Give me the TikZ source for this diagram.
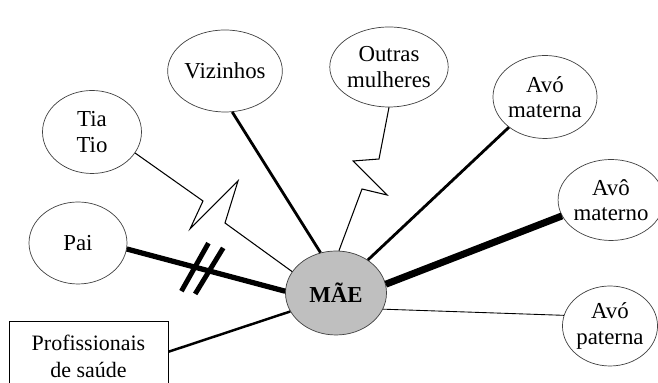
\documentclass[tikz,border=0pt]{standalone}
\usepackage{fontspec}
\setmainfont{Liberation Serif}
\usetikzlibrary{shapes.geometric}

\begin{document}
\begin{tikzpicture}[
        every node/.style={font=\fontsize{13}{14.5}\selectfont},
        person/.style={ellipse,draw=black!75,minimum width=1.96cm,minimum height=1.64cm,inner sep=0pt,align=center},
        cutbar/.style={line width=2.8pt}]
            \useasboundingbox (0,0) rectangle (13.16,7.66);

            \node[person,fill=black!25,minimum width=2.02cm,minimum height=1.68cm] (mae) at (6.72,1.80) {\textbf{MÃE}};
            \node[person] (pai) at (1.56,2.80) {Pai};
            \node[person,minimum width=1.98cm,minimum height=1.66cm] (tia) at (1.84,5.02) {Tia\\Tio};
            \node[person] (viz) at (4.50,6.24) {Vizinhos};
            \node[person,minimum width=2.1cm,minimum height=1.6cm] (outras) at (7.78,6.32) {Outras\\mulheres};
            \node[person,minimum width=1.94cm,minimum height=1.66cm] (avoma) at (10.90,5.72) {Avó\\materna};
            \node[person,minimum width=1.84cm,minimum height=1.62cm] (avomo) at (12.22,3.66) {Avô\\materno};
            \node[person,minimum width=1.8cm,minimum height=1.6cm] (avopa) at (12.20,1.14) {Avó\\paterna};
            \node[draw,minimum width=3.18cm,minimum height=1.4cm,align=center,font=\fontsize{12.5}{15.5}\selectfont] (prof) at (1.77,0.54) {Profissionais\\de saúde};

            \draw[line width=1.6pt] (viz.-80) to (mae.111);
            \draw[line width=1.6pt] (avoma.220) to (mae.46);
            \draw[line width=4pt] (avomo.198) to (mae.10);
            \draw[line width=0.5pt] (avopa.167) to (mae.-19);
            \draw[line width=1.4pt] (prof.3) to (mae.202);
            \draw[line width=3pt] (pai.-7) to coordinate[pos=0.43] (cut1) coordinate[pos=0.52] (cut2) (mae.178);
            \draw[cutbar] (cut1) ++(0.27,0.48) -- ++(-0.54,-0.96);
            \draw[cutbar] (cut2) ++(0.28,0.46) -- ++(-0.56,-0.92);
            \draw[line width=0.6pt] (tia.-26) -- (4.06,3.64) -- (3.80,3.08) -- (4.76,4.04) -- (4.50,3.20) -- (mae.154);
            \draw[line width=0.6pt] (outras.-90) -- (7.58,4.48) -- (7.06,4.44) -- (7.74,3.76) -- (7.24,3.88) -- (mae.86);
        \end{tikzpicture}
\end{document}
